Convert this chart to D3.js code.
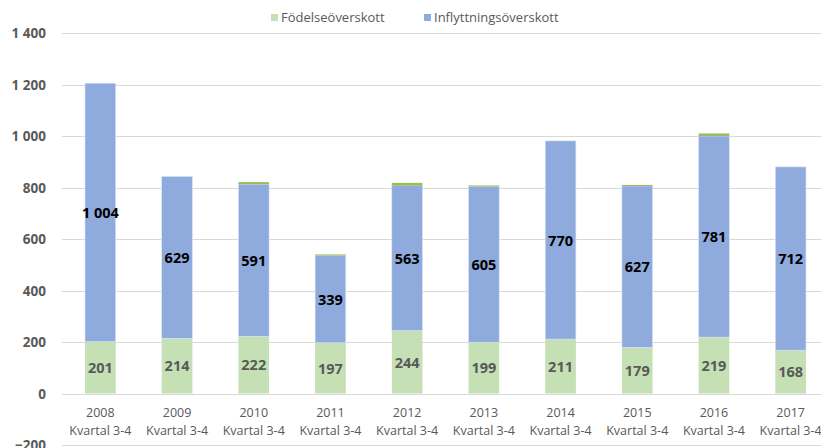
<!DOCTYPE html>
<html>
<head>
<meta charset="utf-8">
<script src="https://cdn.jsdelivr.net/npm/d3@7"></script>
<style>
  body { margin: 0; background: #fff; }
  svg { display: block; font-family: "Open Sans", "Liberation Sans", sans-serif; }
</style>
</head>
<body>
<svg id="chart" width="821" height="448"></svg>
<script>
// chart data
var years = ['2008', '2009', '2010', '2011', '2012', '2013', '2014', '2015', '2016', '2017'];
var period = 'Kvartal 3-4';
var fodelse = [201, 214, 222, 197, 244, 199, 211, 179, 219, 168];
var inflyttning = [1004, 629, 591, 339, 563, 605, 770, 627, 781, 712];
var justering = [0, 0, 8, 4, 11, 4, 0, 4, 10, 0];   // small unlabelled cap, no legend entry
var yTicks = [-200, 0, 200, 400, 600, 800, 1000, 1200, 1400];
var legendNames = ['Födelseöverskott', 'Inflyttningsöverskott'];

var svg = d3.select('#chart');
var grey = '#595959';
var colGreen = '#c5e0b4', colBlue = '#8faadc', colCap = '#9bbb59';

var x = d3.scaleBand().domain(years).range([62, 829]).paddingInner(0.6).paddingOuter(0.3);
var y = d3.scaleLinear().domain([-200, 1400]).range([445, 33]);

var fmt = function(v) { return d3.format(',')(v).replace(/,/g, '\u00a0'); };

// gridlines
svg.append('g').selectAll('line')
    .data(yTicks)
    .enter()
    .append('line')
    .attr('x1', 62).attr('x2', 821)
    .attr('y1', function (d) { return Math.round(y(d)) + 0.5; })
    .attr('y2', function (d) { return Math.round(y(d)) + 0.5; })
    .style('stroke', '#d9d9d9').style('stroke-width', 1);

// y labels
svg.append('g').selectAll('text')
    .data(yTicks)
    .enter()
    .append('text')
    .attr('x', 46)
    .attr('y', function (d) { return y(d) + 5; })
    .attr('text-anchor', 'end')
    .attr('fill', grey)
    .style('font-size', '13.5px').style('font-weight', 'bold')
    .text(fmt);

var rows = years.map(function (yr, i) {
    return { year: yr, f: fodelse[i], n: inflyttning[i], j: justering[i] };
});

var bars = svg.append('g');
var bw = x.bandwidth();

bars.selectAll('rect.f')
    .data(rows).enter().append('rect')
    .attr('x', function (d) { return x(d.year); })
    .attr('width', bw)
    .attr('y', function (d) { return y(d.f); })
    .attr('height', function (d) { return y(0) - y(d.f); })
    .attr('fill', colGreen);

bars.selectAll('rect.n')
    .data(rows).enter().append('rect')
    .attr('x', function (d) { return x(d.year); })
    .attr('width', bw)
    .attr('y', function (d) { return y(d.f + d.n); })
    .attr('height', function (d) { return y(d.f) - y(d.f + d.n); })
    .attr('fill', colBlue)
    .style('stroke', '#dbe4f4').style('stroke-width', 0.6);

bars.selectAll('rect.j')
    .data(rows.filter(function (d) { return d.j > 0; })).enter().append('rect')
    .attr('x', function (d) { return x(d.year); })
    .attr('width', bw)
    .attr('y', function (d) { return y(d.f + d.n + d.j); })
    .attr('height', function (d) { return y(d.f + d.n) - y(d.f + d.n + d.j); })
    .attr('fill', colCap);

// value labels
bars.selectAll('text.f')
    .data(rows).enter().append('text')
    .attr('x', function (d) { return x(d.year) + bw / 2; })
    .attr('y', function (d) { return y(d.f / 2) + 5.5; })
    .attr('text-anchor', 'middle')
    .attr('fill', grey)
    .style('font-size', '14.5px').style('font-weight', 'bold')
    .text(function (d) { return fmt(d.f); });

bars.selectAll('text.n')
    .data(rows).enter().append('text')
    .attr('x', function (d) { return x(d.year) + bw / 2; })
    .attr('y', function (d) { return y(d.f + d.n / 2) + 5.5; })
    .attr('text-anchor', 'middle')
    .attr('fill', '#000')
    .style('font-size', '14.5px').style('font-weight', 'bold')
    .text(function (d) { return fmt(d.n); });

// x labels
var xl = svg.append('g').selectAll('text')
    .data(years).enter().append('text')
    .attr('text-anchor', 'middle')
    .attr('fill', grey)
    .style('font-size', '12.5px');
xl.append('tspan')
    .attr('x', function (d) { return x(d) + bw / 2; })
    .attr('y', 417)
    .text(function (d) { return d; });
xl.append('tspan')
    .attr('x', function (d) { return x(d) + bw / 2; })
    .attr('y', 435)
    .text(period);

// legend
var legend = svg.append('g');
[[271, colGreen], [424, colBlue]].forEach(function (p, i) {
    legend.append('rect').attr('x', p[0]).attr('y', 14).attr('width', 7).attr('height', 7).attr('fill', p[1]);
    legend.append('text').attr('x', p[0] + 10).attr('y', 22)
        .attr('fill', grey).style('font-size', '13px')
        .text(legendNames[i]);
});
</script>
</body>
</html>
